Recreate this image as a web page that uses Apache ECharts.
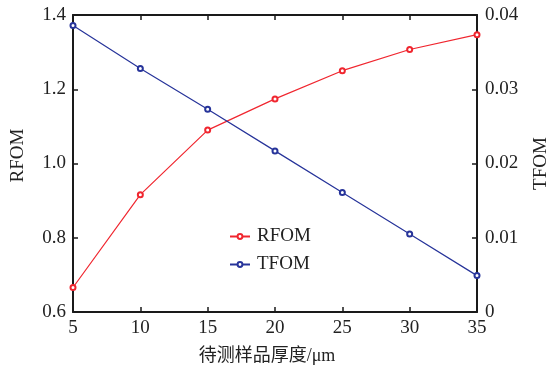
<!DOCTYPE html>
<html>
<head>
<meta charset="utf-8">
<script src="https://cdn.jsdelivr.net/npm/echarts@6/dist/echarts.min.js"></script>
<style>
  html, body { margin: 0; padding: 0; background: #fff; }
  #chart { width: 548px; height: 369px; }
</style>
</head>
<body>
<div id="chart"></div>
<script>
// Sample thickness (μm) and the two figures of merit
const thickness = [5, 10, 15, 20, 25, 30, 35];
const rfom = [0.666, 0.916, 1.090, 1.174, 1.250, 1.307, 1.347];
const tfom = [0.0386, 0.0328, 0.0273, 0.0217, 0.0161, 0.0105, 0.0049];

const xTicks = { min: 5, max: 35, step: 5 };
const leftTicks = { min: 0.6, max: 1.4, step: 0.2 };
const rightTicks = { min: 0, max: 0.04, step: 0.01 };

const FONT = '"Liberation Serif", "Noto Sans CJK SC", serif';
const FS = 19;
const RED = '#f0262f';
const BLUE = '#27349a';
const AXIS = '#1a1a1a';
const TEXT = '#222';

const labelStyle = { color: TEXT, fontFamily: FONT, fontSize: FS };
const nameStyle = { color: TEXT, fontFamily: FONT, fontSize: FS };
const lineAxis = { show: true, lineStyle: { color: AXIS, width: 2 } };
const tick = { show: true, inside: true, length: 5, lineStyle: { color: AXIS, width: 1.5 } };

const chart = echarts.init(document.getElementById('chart'), null, { renderer: 'canvas' });
chart.setOption({
  animation: false,
  backgroundColor: '#fff',
  grid: { left: 73, right: 71, top: 15, bottom: 57, outerBoundsMode: 'none' },
  legend: {
    left: 229, top: 227,
    orient: 'vertical',
    itemGap: 9,
    itemWidth: 20, itemHeight: 6,
    padding: 0,
    textStyle: { fontFamily: FONT, fontSize: FS, color: TEXT, padding: [0, 0, 0, 2] },
    data: ['RFOM', 'TFOM']
  },
  xAxis: [{
    type: 'value',
    min: xTicks.min, max: xTicks.max, interval: xTicks.step,
    position: 'bottom',
    name: '待测样品厚度/μm',
    nameLocation: 'middle', nameGap: 35,
    nameTextStyle: Object.assign({}, nameStyle, { fontSize: 18, padding: [0, 16, 0, 0] }),
    axisLine: lineAxis, axisTick: tick,
    axisLabel: Object.assign({ margin: 7 }, labelStyle),
    splitLine: { show: false }
  }, {
    type: 'value',
    min: xTicks.min, max: xTicks.max, interval: xTicks.step,
    position: 'top',
    axisLine: lineAxis, axisTick: tick,
    axisLabel: { show: false },
    splitLine: { show: false }
  }],
  yAxis: [{
    type: 'value',
    min: leftTicks.min, max: leftTicks.max, interval: leftTicks.step,
    position: 'left',
    name: 'RFOM', nameLocation: 'middle', nameGap: 45, nameRotate: 90,
    nameTextStyle: Object.assign({}, nameStyle, { padding: [0, 0, 0, 16] }),
    axisLine: lineAxis, axisTick: tick,
    axisLabel: Object.assign({ margin: 7, formatter: v => v.toFixed(1) }, labelStyle),
    splitLine: { show: false }
  }, {
    type: 'value',
    min: rightTicks.min, max: rightTicks.max, interval: rightTicks.step,
    position: 'right',
    name: 'TFOM', nameLocation: 'middle', nameGap: 55, nameRotate: 90,
    nameTextStyle: nameStyle,
    axisLine: lineAxis, axisTick: tick,
    axisLabel: Object.assign({ margin: 8, formatter: v => (v === 0 ? '0' : v.toFixed(2)) }, labelStyle),
    splitLine: { show: false }
  }],
  series: [{
    name: 'RFOM', type: 'line',
    xAxisIndex: 0, yAxisIndex: 0,
    data: thickness.map((x, i) => [x, rfom[i]]),
    symbol: 'emptyCircle', symbolSize: 5,
    lineStyle: { color: RED, width: 1.2 },
    itemStyle: { color: RED, borderColor: RED, borderWidth: 1.2 }
  }, {
    name: 'TFOM', type: 'line',
    xAxisIndex: 0, yAxisIndex: 1,
    data: thickness.map((x, i) => [x, tfom[i]]),
    symbol: 'emptyCircle', symbolSize: 5,
    lineStyle: { color: BLUE, width: 1.2 },
    itemStyle: { color: BLUE, borderColor: BLUE, borderWidth: 1.2 }
  }]
});
</script>
</body>
</html>
